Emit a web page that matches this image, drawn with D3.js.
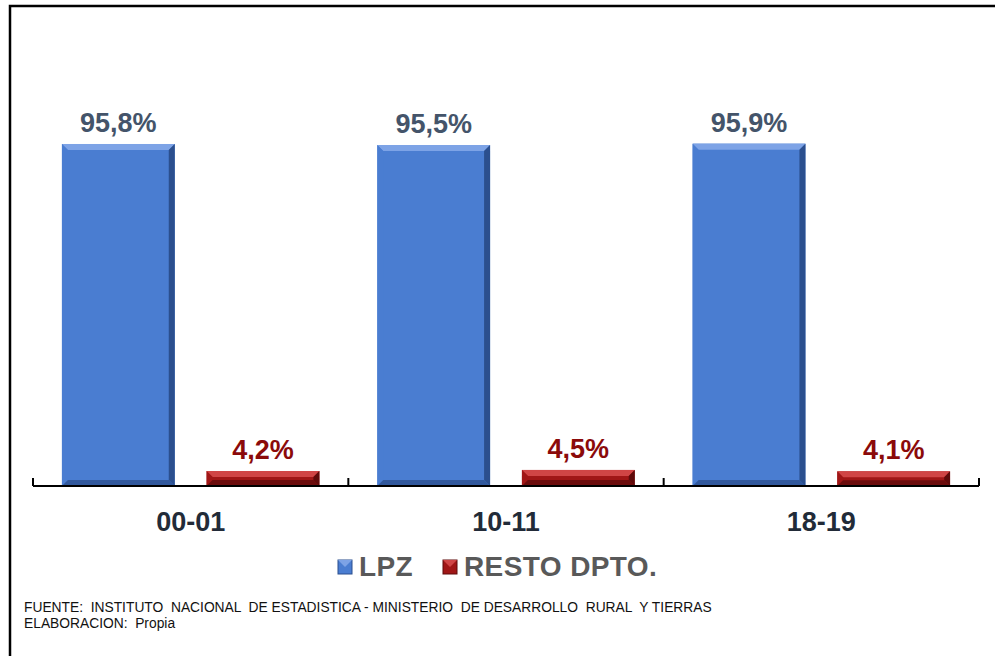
<!DOCTYPE html>
<html>
<head>
<meta charset="utf-8">
<script src="https://cdn.jsdelivr.net/npm/d3@7"></script>
<style>
  body { margin: 0; background: #ffffff; }
  svg { display: block; font-family: "Liberation Sans", Arial, sans-serif; }
</style>
</head>
<body>
<div id="container"></div>
<script>
/* DATA */
const periods = ["00-01", "10-11", "18-19"];
const seriesNames = ["LPZ", "RESTO DPTO."];
const lpzValues = [95.8, 95.5, 95.9];
const restoValues = [4.2, 4.5, 4.1];
const valueLabels = [["95,8%", "95,5%", "95,9%"], ["4,2%", "4,5%", "4,1%"]];

/* CONSTANTS */
const width = 995, height = 656;
const plot = { left: 33, right: 979, bottom: 486, top: 129 };
const colors = {
  LPZ: { base: "#4A7DD1", light: "#7DA3E6", dark: "#2B4F8E", label: "#44546A" },
  "RESTO DPTO.": { base: "#A01616", light: "#D04545", dark: "#5E0A0A", label: "#8B0A0A" }
};

const svg = d3.select("#container")
  .append("svg")
  .attr("width", width)
  .attr("height", height);

// frame
svg.append("rect")
  .attr("x", 10).attr("y", 6)
  .attr("width", width + 20).attr("height", height + 20)
  .attr("fill", "none")
  .attr("stroke", "#000")
  .attr("stroke-width", 2.5);

/* SCALES */
const xScale = d3.scaleBand()
  .domain(periods)
  .range([plot.left, plot.right]);

const xInner = d3.scaleBand()
  .domain(seriesNames)
  .range([0, xScale.bandwidth()])
  .paddingInner(0.22)
  .paddingOuter(0.2);

const yScale = d3.scaleLinear()
  .domain([0, 100])
  .range([plot.bottom, plot.top]);

const rows = [];
periods.forEach((p, i) => {
  rows.push({ period: p, series: "LPZ", value: lpzValues[i], label: valueLabels[0][i] });
  rows.push({ period: p, series: "RESTO DPTO.", value: restoValues[i], label: valueLabels[1][i] });
});

/* BARS (bevelled) */
const bars = svg.selectAll(".bar")
  .data(rows)
  .join("g")
  .attr("class", "bar")
  .attr("transform", d => `translate(${xScale(d.period) + xInner(d.series)},${yScale(d.value)})`);

bars.each(function(d) {
  const g = d3.select(this);
  const w = xInner.bandwidth();
  const h = yScale(0) - yScale(d.value);
  const b = Math.min(6, h / 2.5);
  const c = colors[d.series];
  g.append("rect").attr("width", w).attr("height", h).attr("fill", c.base);
  // top bevel
  g.append("path").attr("d", `M0,0 L${w},0 L${w - b},${b} L${b},${b} Z`).attr("fill", c.light);
  // left bevel
  g.append("path").attr("d", `M0,0 L${b},${b} L${b},${h - b} L0,${h} Z`).attr("fill", c.base).attr("opacity", 0.85);
  // right bevel
  g.append("path").attr("d", `M${w},0 L${w},${h} L${w - b},${h - b} L${w - b},${b} Z`).attr("fill", c.dark);
  // bottom bevel
  g.append("path").attr("d", `M0,${h} L${b},${h - b} L${w - b},${h - b} L${w},${h} Z`).attr("fill", c.dark).attr("opacity", 0.8);
});

// value labels
svg.selectAll(".value-label")
  .data(rows)
  .join("text")
  .attr("class", "value-label")
  .attr("x", d => xScale(d.period) + xInner(d.series) + xInner.bandwidth() / 2)
  .attr("y", d => yScale(d.value) - 12)
  .attr("text-anchor", "middle")
  .attr("font-size", "27px")
  .attr("font-weight", "bold")
  .attr("fill", d => colors[d.series].label)
  .text(d => d.label);

/* X AXIS */
const axis = svg.append("g").attr("class", "x-axis");
axis.append("line")
  .attr("x1", plot.left).attr("x2", plot.right)
  .attr("y1", plot.bottom).attr("y2", plot.bottom)
  .attr("stroke", "#000").attr("stroke-width", 2);
axis.selectAll(".tick")
  .data(periods.concat([null]))
  .join("line")
  .attr("class", "tick")
  .attr("x1", (d, i) => i < periods.length ? xScale(d) : plot.right)
  .attr("x2", (d, i) => i < periods.length ? xScale(d) : plot.right)
  .attr("y1", plot.bottom - 8).attr("y2", plot.bottom)
  .attr("stroke", "#000").attr("stroke-width", 2);
axis.selectAll(".cat")
  .data(periods)
  .join("text")
  .attr("class", "cat")
  .attr("x", d => xScale(d) + xScale.bandwidth() / 2)
  .attr("y", 531)
  .attr("text-anchor", "middle")
  .attr("font-size", "27px")
  .attr("font-weight", "bold")
  .attr("fill", "#222B38")
  .text(d => d);

/* LEGEND */
const legendX = [338, 443];
const legend = svg.selectAll(".legend")
  .data(seriesNames)
  .join("g")
  .attr("class", "legend")
  .attr("transform", (d, i) => `translate(${legendX[i]},560)`);
legend.append("rect")
  .attr("width", 14).attr("height", 14)
  .attr("fill", d => colors[d].base)
  .attr("stroke", d => colors[d].dark)
  .attr("stroke-width", 1);
legend.append("path")
  .attr("d", "M0,0 L14,0 L7,7 Z")
  .attr("fill", d => colors[d].light);
legend.append("text")
  .attr("x", 21).attr("y", 16)
  .attr("font-size", "28px")
  .attr("font-weight", "bold")
  .attr("letter-spacing", "0.4px")
  .attr("fill", "#595959")
  .text(d => d);

/* SOURCE NOTE */
svg.append("text")
  .attr("x", 24).attr("y", 612)
  .attr("font-size", "13.8px")
  .attr("fill", "#111")
  .attr("xml:space", "preserve")
  .text("FUENTE:  INSTITUTO  NACIONAL  DE ESTADISTICA - MINISTERIO  DE DESARROLLO  RURAL  Y TIERRAS");
svg.append("text")
  .attr("x", 24).attr("y", 628)
  .attr("font-size", "13.8px")
  .attr("fill", "#111")
  .attr("xml:space", "preserve")
  .text("ELABORACION:  Propia");
</script>
</body>
</html>
